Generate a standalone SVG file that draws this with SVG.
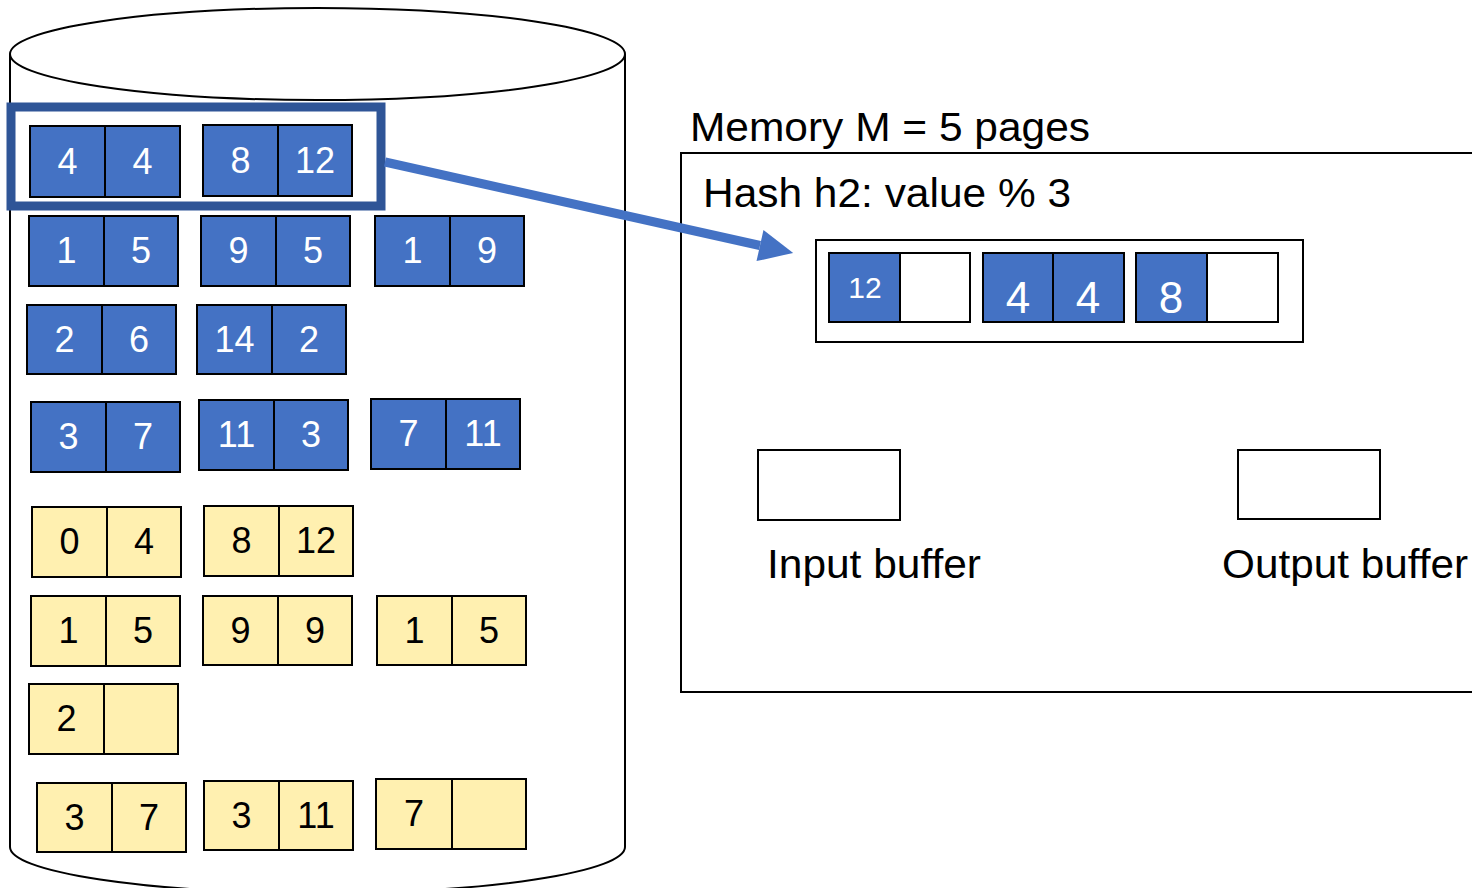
<svg xmlns="http://www.w3.org/2000/svg" width="1472" height="888" viewBox="0 0 1472 888">
<style>
.b{fill:#4472C4;stroke:#000;stroke-width:2}
.y{fill:#FFF0B0;stroke:#000;stroke-width:2}
.w{fill:#fff;stroke:#000;stroke-width:2}
.tw{fill:#fff;font-family:"Liberation Sans",Arial,sans-serif;font-size:36px;text-anchor:middle}
.tk{fill:#000;font-family:"Liberation Sans",Arial,sans-serif;font-size:36px;text-anchor:middle}
.lab{fill:#000;font-family:"Liberation Sans",Arial,sans-serif;font-size:40px}
</style>
<defs>
<marker id="ah" markerUnits="userSpaceOnUse" markerWidth="34" markerHeight="32" refX="0" refY="16" orient="auto" overflow="visible">
<path d="M0,0 L34,16 L0,32 Z" fill="#4472C4"/>
</marker>
</defs>
<rect width="1472" height="888" fill="#fff"/>
<g id="disk">
<path d="M10,54 L10,847 A307.5,46 0 0 0 625,847 L625,54" fill="#fff" stroke="#000" stroke-width="2"/>
<ellipse cx="317.5" cy="54" rx="307.5" ry="46" fill="#fff" stroke="#000" stroke-width="2"/>
</g>
<g id="p1"><rect class="b" x="30" y="126" width="75" height="71"/><rect class="b" x="105" y="126" width="75" height="71"/><text class="tw" x="67.5" y="174">4</text><text class="tw" x="142.5" y="174">4</text></g>
<g id="p2"><rect class="b" x="203" y="125" width="75" height="71"/><rect class="b" x="278" y="125" width="74" height="71"/><text class="tw" x="240.5" y="173">8</text><text class="tw" x="315" y="173">12</text></g>
<g id="p3"><rect class="b" x="29" y="216" width="75" height="70"/><rect class="b" x="104" y="216" width="74" height="70"/><text class="tw" x="66.5" y="263">1</text><text class="tw" x="141" y="263">5</text></g>
<g id="p4"><rect class="b" x="201" y="216" width="75" height="70"/><rect class="b" x="276" y="216" width="74" height="70"/><text class="tw" x="238.5" y="263">9</text><text class="tw" x="313" y="263">5</text></g>
<g id="p5"><rect class="b" x="375" y="216" width="75" height="70"/><rect class="b" x="450" y="216" width="74" height="70"/><text class="tw" x="412.5" y="263">1</text><text class="tw" x="487" y="263">9</text></g>
<g id="p6"><rect class="b" x="27" y="305" width="75" height="69"/><rect class="b" x="102" y="305" width="74" height="69"/><text class="tw" x="64.5" y="352">2</text><text class="tw" x="139" y="352">6</text></g>
<g id="p7"><rect class="b" x="197" y="305" width="75" height="69"/><rect class="b" x="272" y="305" width="74" height="69"/><text class="tw" x="234.5" y="352">14</text><text class="tw" x="309" y="352">2</text></g>
<g id="p8"><rect class="b" x="31" y="402" width="75" height="70"/><rect class="b" x="106" y="402" width="74" height="70"/><text class="tw" x="68.5" y="449">3</text><text class="tw" x="143" y="449">7</text></g>
<g id="p9"><rect class="b" x="199" y="400" width="75" height="70"/><rect class="b" x="274" y="400" width="74" height="70"/><text class="tw" x="236.5" y="447">11</text><text class="tw" x="311" y="447">3</text></g>
<g id="p10"><rect class="b" x="371" y="399" width="75" height="70"/><rect class="b" x="446" y="399" width="74" height="70"/><text class="tw" x="408.5" y="446">7</text><text class="tw" x="483" y="446">11</text></g>
<g id="q1"><rect class="y" x="32" y="507" width="75" height="70"/><rect class="y" x="107" y="507" width="74" height="70"/><text class="tk" x="69.5" y="554">0</text><text class="tk" x="144" y="554">4</text></g>
<g id="q2"><rect class="y" x="204" y="506" width="75" height="70"/><rect class="y" x="279" y="506" width="74" height="70"/><text class="tk" x="241.5" y="553">8</text><text class="tk" x="316" y="553">12</text></g>
<g id="q3"><rect class="y" x="31" y="596" width="75" height="70"/><rect class="y" x="106" y="596" width="74" height="70"/><text class="tk" x="68.5" y="643">1</text><text class="tk" x="143" y="643">5</text></g>
<g id="q4"><rect class="y" x="203" y="596" width="75" height="69"/><rect class="y" x="278" y="596" width="74" height="69"/><text class="tk" x="240.5" y="643">9</text><text class="tk" x="315" y="643">9</text></g>
<g id="q5"><rect class="y" x="377" y="596" width="75" height="69"/><rect class="y" x="452" y="596" width="74" height="69"/><text class="tk" x="414.5" y="643">1</text><text class="tk" x="489" y="643">5</text></g>
<g id="q6"><rect class="y" x="29" y="684" width="75" height="70"/><rect class="y" x="104" y="684" width="74" height="70"/><text class="tk" x="66.5" y="731">2</text></g>
<g id="q7"><rect class="y" x="37" y="783" width="75" height="69"/><rect class="y" x="112" y="783" width="74" height="69"/><text class="tk" x="74.5" y="830">3</text><text class="tk" x="149" y="830">7</text></g>
<g id="q8"><rect class="y" x="204" y="781" width="75" height="69"/><rect class="y" x="279" y="781" width="74" height="69"/><text class="tk" x="241.5" y="828">3</text><text class="tk" x="316" y="828">11</text></g>
<g id="q9"><rect class="y" x="376" y="779" width="76" height="70"/><rect class="y" x="452" y="779" width="74" height="70"/><text class="tk" x="414" y="826">7</text></g>
<g id="highlight"><rect x="11" y="107" width="370" height="99" fill="none" stroke="#2F5597" stroke-width="9"/></g>
<g id="memory">
<text class="lab" x="690" y="141" textLength="400" lengthAdjust="spacingAndGlyphs">Memory M = 5 pages</text>
<rect x="681" y="153" width="800" height="539" fill="#fff" stroke="#000" stroke-width="2"/>
<text class="lab" x="703" y="207" textLength="368" lengthAdjust="spacingAndGlyphs">Hash h2: value % 3</text>
</g>
<g id="hashtable">
<rect class="w" x="816" y="240" width="487" height="102"/>
<rect class="b" x="829" y="253" width="71" height="69"/><rect class="w" x="900" y="253" width="70" height="69"/>
<rect class="b" x="983" y="253" width="70" height="69"/><rect class="b" x="1053" y="253" width="71" height="69"/>
<rect class="b" x="1136" y="253" width="71" height="69"/><rect class="w" x="1207" y="253" width="71" height="69"/>
<text class="tw" x="865" y="298" style="font-size:30px">12</text>
<text class="tw" x="1018" y="313" style="font-size:44px">4</text>
<text class="tw" x="1088" y="313" style="font-size:44px">4</text>
<text class="tw" x="1171" y="313" style="font-size:44px">8</text>
</g>
<g id="input"><rect class="w" x="758" y="450" width="142" height="70"/><text class="lab" x="767" y="578" textLength="214" lengthAdjust="spacingAndGlyphs">Input buffer</text></g>
<g id="output"><rect class="w" x="1238" y="450" width="142" height="69"/><text class="lab" x="1222" y="578" textLength="246" lengthAdjust="spacingAndGlyphs">Output buffer</text></g>
<g id="connectors">
<line x1="385" y1="162" x2="760" y2="245.5" stroke="#4472C4" stroke-width="9" marker-end="url(#ah)"/>
</g>
</svg>
